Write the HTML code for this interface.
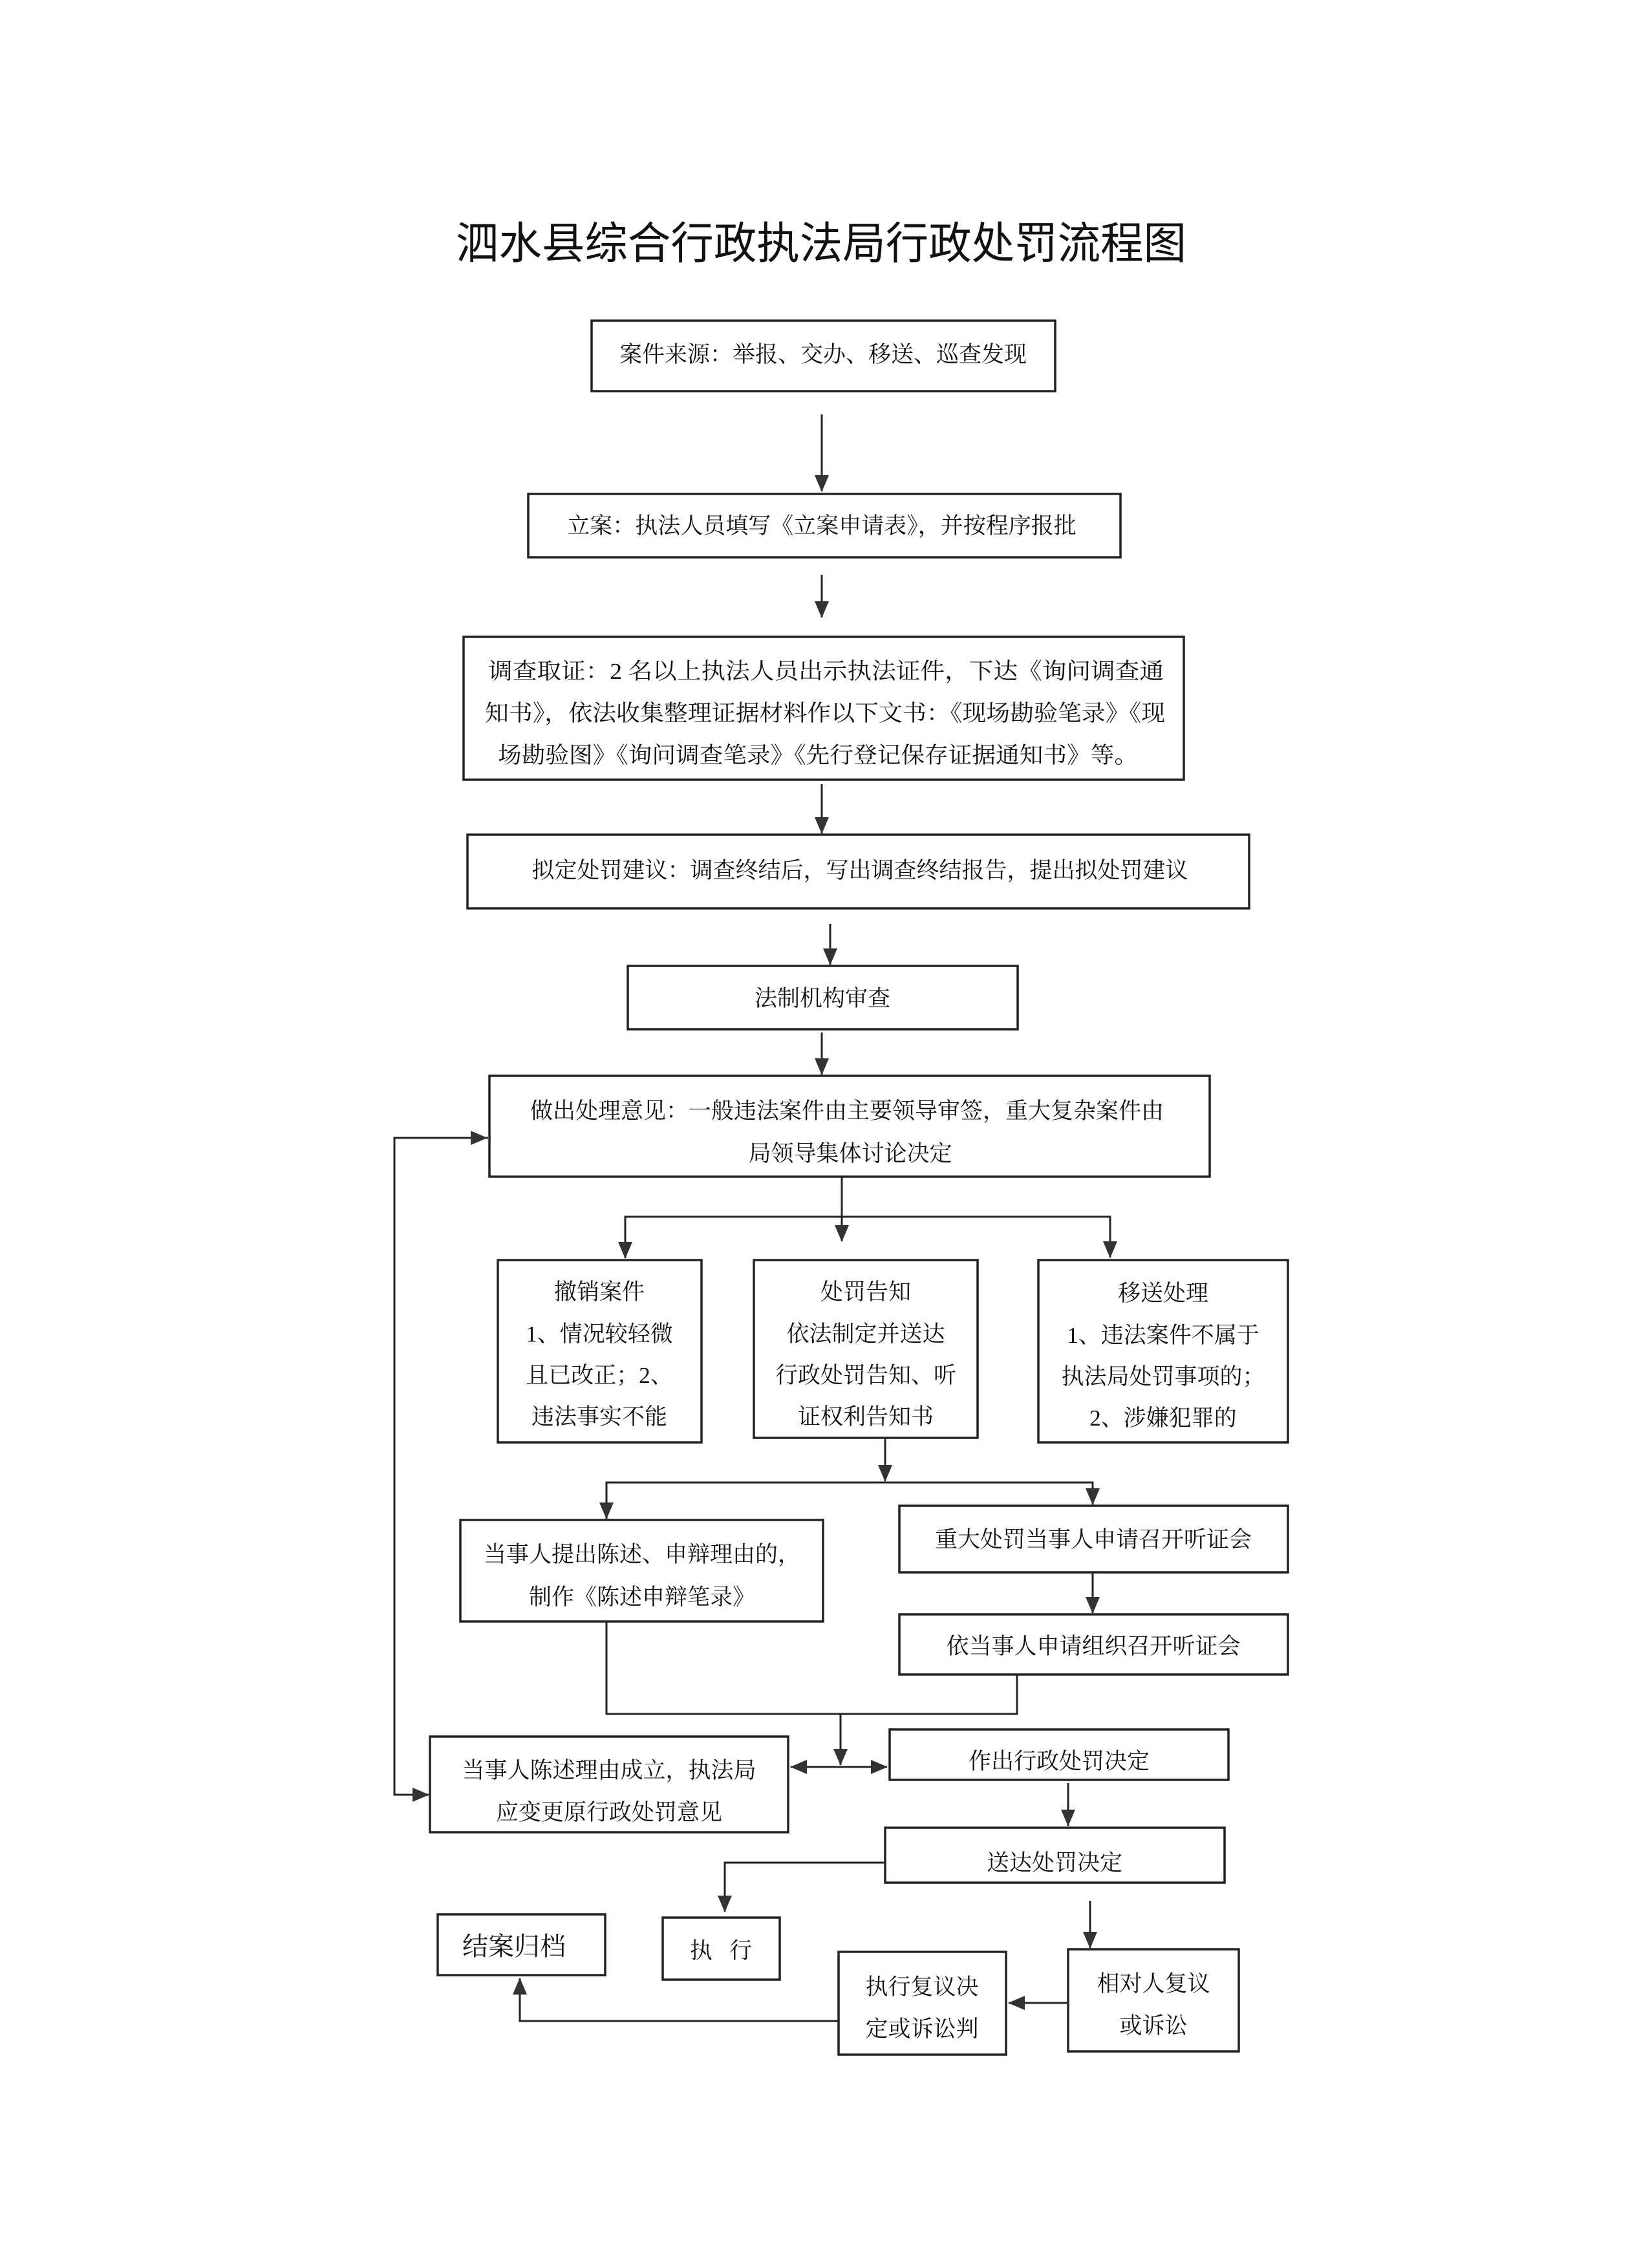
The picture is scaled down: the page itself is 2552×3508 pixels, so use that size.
<!DOCTYPE html>
<html><head><meta charset="utf-8"><style>
html,body{margin:0;padding:0;background:#fff}
svg{display:block}
text{font-family:"Liberation Serif","Noto Serif CJK SC","Noto Sans CJK SC",serif;font-size:35px;fill:#111}
</style></head><body>
<svg width="2552" height="3508" viewBox="0 0 2552 3508" xmlns="http://www.w3.org/2000/svg">
<defs>
<marker id="b" markerWidth="26" markerHeight="22" refX="25" refY="11" orient="auto" markerUnits="userSpaceOnUse"><path d="M0,0 L26,11 L0,22 z" fill="#333"/></marker></defs>
<g fill="none" stroke="#222" stroke-width="3.5">
<rect x="915" y="496" width="717" height="109"/>
<rect x="817" y="764" width="916" height="98"/>
<rect x="717" y="985" width="1114" height="221"/>
<rect x="723" y="1291" width="1209" height="114"/>
<rect x="971" y="1494" width="603" height="98"/>
<rect x="757" y="1664" width="1114" height="156"/>
<rect x="770" y="1949" width="315" height="282"/>
<rect x="1166" y="1949" width="346" height="275"/>
<rect x="1606" y="1949" width="386" height="282"/>
<rect x="712" y="2351" width="561" height="157"/>
<rect x="1391" y="2329" width="601" height="103"/>
<rect x="1391" y="2497" width="601" height="93"/>
<rect x="665" y="2686" width="554" height="148"/>
<rect x="1376" y="2675" width="524" height="78"/>
<rect x="1369" y="2827" width="525" height="85"/>
<rect x="677" y="2961" width="259" height="94"/>
<rect x="1025" y="2966" width="181" height="96"/>
<rect x="1297" y="3019" width="259" height="159"/>
<rect x="1652" y="3015" width="264" height="158"/>
</g>
<g fill="none" stroke="#222" stroke-width="3">
<line x1="1271" y1="641" x2="1271" y2="760" marker-end="url(#b)"/>
<line x1="1271" y1="889" x2="1271" y2="955" marker-end="url(#b)"/>
<line x1="1271" y1="1213" x2="1271" y2="1289" marker-end="url(#b)"/>
<line x1="1284" y1="1429" x2="1284" y2="1492" marker-end="url(#b)"/>
<line x1="1271" y1="1597" x2="1271" y2="1662" marker-end="url(#b)"/>
<line x1="1302" y1="1820" x2="1302" y2="1920" marker-end="url(#b)"/>
<polyline points="967,1945 967,1882 1717,1882 1717,1945" marker-end="url(#b)"/>
<line x1="967" y1="1882" x2="967" y2="1946" marker-end="url(#b)"/>
<line x1="1369" y1="2224" x2="1369" y2="2291" marker-end="url(#b)"/>
<polyline points="938,2349 938,2293 1690,2293 1690,2327" marker-end="url(#b)"/>
<line x1="938" y1="2293" x2="938" y2="2349" marker-end="url(#b)"/>
<line x1="1690" y1="2432" x2="1690" y2="2495" marker-end="url(#b)"/>
<polyline points="938,2508 938,2651 1573,2651 1573,2590"/>
<line x1="1300" y1="2651" x2="1300" y2="2730" marker-end="url(#b)"/>
<line x1="1300" y1="2733" x2="1223" y2="2733" marker-end="url(#b)"/>
<line x1="1300" y1="2733" x2="1372" y2="2733" marker-end="url(#b)"/>
<line x1="1652" y1="2758" x2="1652" y2="2824" marker-end="url(#b)"/>
<polyline points="1369,2881 1121,2881 1121,2957" marker-end="url(#b)"/>
<line x1="1686" y1="2940" x2="1686" y2="3013" marker-end="url(#b)"/>
<line x1="1650" y1="3098" x2="1560" y2="3098" marker-end="url(#b)"/>
<polyline points="1297,3126 804,3126 804,3060" marker-end="url(#b)"/>
<polyline points="755,1760 610,1760 610,2776 663,2776" marker-end="url(#b)"/>
<line x1="640" y1="1760" x2="753" y2="1760" marker-end="url(#b)"/>
</g>
<text x="1270" y="400" text-anchor="middle" textLength="1130" lengthAdjust="spacingAndGlyphs" style="font-family:'Noto Sans CJK SC',sans-serif;font-size:68px;font-weight:400">泗水县综合行政执法局行政处罚流程图</text>
<text x="1273" y="560" text-anchor="middle">案件来源：举报、交办、移送、巡查发现</text>
<text x="1271" y="825" text-anchor="middle">立案：执法人员填写《立案申请表》，并按程序报批</text>
<text x="755" y="1050" textLength="1045" lengthAdjust="spacingAndGlyphs">调查取证：2 名以上执法人员出示执法证件，下达《询问调查通</text>
<text x="750" y="1115" textLength="1052" lengthAdjust="spacingAndGlyphs">知书》，依法收集整理证据材料作以下文书：《现场勘验笔录》《现</text>
<text x="770" y="1180" textLength="990" lengthAdjust="spacingAndGlyphs">场勘验图》《询问调查笔录》《先行登记保存证据通知书》等。</text>
<text x="1330" y="1358" text-anchor="middle">拟定处罚建议：调查终结后，写出调查终结报告，提出拟处罚建议</text>
<text x="1272" y="1556" text-anchor="middle">法制机构审查</text>
<text x="1310" y="1730" text-anchor="middle">做出处理意见：一般违法案件由主要领导审签，重大复杂案件由</text>
<text x="1315" y="1796" text-anchor="middle">局领导集体讨论决定</text>
<text x="927" y="2010" text-anchor="middle">撤销案件</text>
<text x="927" y="2075" text-anchor="middle">1、情况较轻微</text>
<text x="927" y="2139" text-anchor="middle">且已改正；2、</text>
<text x="927" y="2203" text-anchor="middle">违法事实不能</text>
<text x="1339" y="2010" text-anchor="middle">处罚告知</text>
<text x="1339" y="2075" text-anchor="middle">依法制定并送达</text>
<text x="1339" y="2139" text-anchor="middle">行政处罚告知、听</text>
<text x="1339" y="2203" text-anchor="middle">证权利告知书</text>
<text x="1799" y="2012" text-anchor="middle">移送处理</text>
<text x="1799" y="2077" text-anchor="middle">1、违法案件不属于</text>
<text x="1799" y="2141" text-anchor="middle">执法局处罚事项的；</text>
<text x="1799" y="2205" text-anchor="middle">2、涉嫌犯罪的</text>
<text x="993" y="2416" text-anchor="middle">当事人提出陈述、申辩理由的，</text>
<text x="993" y="2482" text-anchor="middle">制作《陈述申辩笔录》</text>
<text x="1691" y="2393" text-anchor="middle">重大处罚当事人申请召开听证会</text>
<text x="1691" y="2558" text-anchor="middle">依当事人申请组织召开听证会</text>
<text x="942" y="2750" text-anchor="middle">当事人陈述理由成立，执法局</text>
<text x="942" y="2815" text-anchor="middle">应变更原行政处罚意见</text>
<text x="1638" y="2736" text-anchor="middle">作出行政处罚决定</text>
<text x="1631" y="2893" text-anchor="middle">送达处罚决定</text>
<text x="795" y="3024" text-anchor="middle" style="font-size:40px">结案归档</text>
<text x="1115" y="3029" text-anchor="middle" xml:space="preserve">执   行</text>
<text x="1426" y="3085" text-anchor="middle">执行复议决</text>
<text x="1426" y="3150" text-anchor="middle">定或诉讼判</text>
<text x="1784" y="3080" text-anchor="middle">相对人复议</text>
<text x="1784" y="3145" text-anchor="middle">或诉讼</text>
</svg>
</body></html>
